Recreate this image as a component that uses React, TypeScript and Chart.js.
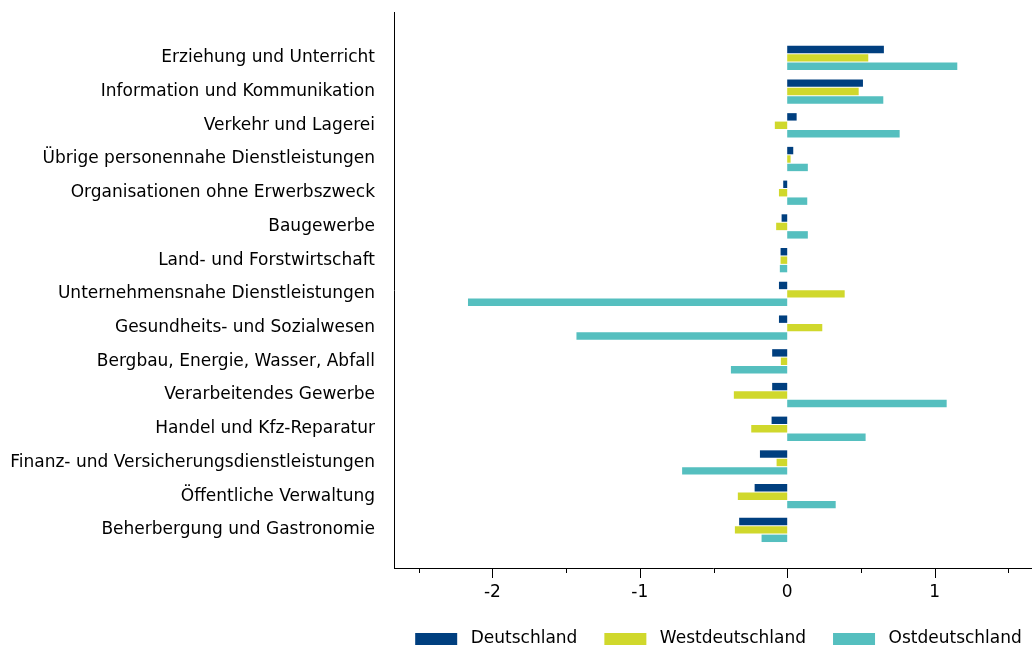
import React, { useEffect, useRef } from "react";
import { Chart, registerables } from "chart.js";

Chart.register(...registerables);

const categories = [
  "Erziehung und Unterricht",
  "Information und Kommunikation",
  "Verkehr und Lagerei",
  "Übrige personennahe Dienstleistungen",
  "Organisationen ohne Erwerbszweck",
  "Baugewerbe",
  "Land- und Forstwirtschaft",
  "Unternehmensnahe Dienstleistungen",
  "Gesundheits- und Sozialwesen",
  "Bergbau, Energie, Wasser, Abfall",
  "Verarbeitendes Gewerbe",
  "Handel und Kfz-Reparatur",
  "Finanz- und Versicherungsdienstleistungen",
  "Öffentliche Verwaltung",
  "Beherbergung und Gastronomie",
];

const deutschland = [0.656, 0.514, 0.064, 0.041, -0.027, -0.038, -0.045, -0.056, -0.056, -0.102, -0.102, -0.106, -0.185, -0.221, -0.326];
const westdeutschland = [0.55, 0.485, -0.084, 0.023, -0.056, -0.075, -0.045, 0.39, 0.238, -0.043, -0.362, -0.244, -0.072, -0.335, -0.355];
const ostdeutschland = [1.154, 0.652, 0.763, 0.14, 0.136, 0.14, -0.05, -2.166, -1.43, -0.382, 1.082, 0.532, -0.713, 0.329, -0.174];

const seriesNames = ["Deutschland", "Westdeutschland", "Ostdeutschland"];
const seriesColors = ["#003f7f", "#d0d82c", "#55bfbf"];

const xMin = -2.668;
const xMax = 1.661;
const xStep = 0.5;

const FONT = "'DejaVu Sans', sans-serif";

const tickMarks = {
  id: "tickMarks",
  afterDraw(chart: any) {
    const s = chart.scales.x;
    const ctx = chart.ctx;
    const y0 = chart.chartArea.bottom;
    ctx.save();
    ctx.strokeStyle = "#000";
    ctx.lineWidth = 1;
    s.ticks.forEach((t: any) => {
      const x = Math.round(s.getPixelForValue(t.value)) + 0.5;
      const len = Number.isInteger(t.value) ? 10 : 5;
      ctx.beginPath();
      ctx.moveTo(x, y0);
      ctx.lineTo(x, y0 + len);
      ctx.stroke();
    });
    ctx.restore();
  },
};

// Legend drawn below the plot, centred on the plot area
const bottomLegend = {
  id: "bottomLegend",
  afterDraw(chart: any) {
    const ctx = chart.ctx;
    const area = chart.chartArea;
    const boxW = 42;
    const boxH = 12;
    const gapText = 13.5;
    const gapItem = 27;
    ctx.save();
    ctx.font = `17px ${FONT}`;
    const items = chart.data.datasets.map((d: any) => ({
      label: d.label,
      color: d.backgroundColor,
      w: ctx.measureText(d.label).width,
    }));
    const total =
      items.reduce((s: number, it: any) => s + boxW + gapText + it.w, 0) + gapItem * (items.length - 1);
    let x = (area.left + area.right) / 2 + 5.5 - total / 2;
    const cy = 639;
    ctx.textBaseline = "middle";
    ctx.textAlign = "left";
    items.forEach((it: any) => {
      ctx.fillStyle = it.color;
      ctx.fillRect(x, cy - boxH / 2, boxW, boxH);
      ctx.fillStyle = "#000";
      ctx.fillText(it.label, x + boxW + gapText, cy);
      x += boxW + gapText + it.w + gapItem;
    });
    ctx.restore();
  },
};

export default function App() {
  const ref = useRef<HTMLCanvasElement | null>(null);

  useEffect(() => {
    if (!ref.current) return;
    const datasets = [deutschland, westdeutschland, ostdeutschland].map((vals, k) => ({
      label: seriesNames[k],
      data: vals.map((v, i) => ({ x: v, y: i })),
      backgroundColor: seriesColors[k],
      borderWidth: 0,
      categoryPercentage: 0.75,
      barPercentage: 0.88,
    }));
    const chart = new Chart(ref.current, {
      type: "bar",
      data: { datasets },
      plugins: [tickMarks, bottomLegend],
      options: {
        indexAxis: "y",
        animation: false,
        responsive: false,
        layout: { padding: { top: 12, right: 0, bottom: 45.6, left: 0 } },
        scales: {
          x: {
            type: "linear",
            min: xMin,
            max: xMax,
            grid: { display: false },
            border: { display: true, color: "#000", width: 1 },
            afterFit: (scale: any) => {
              scale.height = 36.4;
              scale.paddingLeft = 0;
              scale.paddingRight = 0;
            },
            ticks: {
              stepSize: xStep,
              includeBounds: false,
              autoSkip: false,
              maxRotation: 0,
              padding: 6,
              color: "#000",
              font: { family: FONT, size: 17 },
              callback: (v: any) => (Number.isInteger(v) ? String(v) : ""),
            },
          },
          y: {
            type: "linear",
            reverse: true,
            offset: false,
            min: -1.36,
            max: 15.13,
            grid: { display: false, offset: false },
            border: { display: true, color: "#000", width: 1 },
            afterBuildTicks: (scale: any) => {
              scale.ticks = categories.map((_, i) => ({ value: i }));
            },
            afterFit: (scale: any) => {
              scale.width = 394;
              scale.paddingTop = 0;
              scale.paddingBottom = 0;
            },
            ticks: {
              autoSkip: false,
              padding: 11,
              color: "#000",
              font: { family: FONT, size: 17 },
              callback: (v: any) => categories[v] ?? "",
            },
          },
        },
        plugins: {
          legend: { display: false },
          tooltip: { enabled: false },
        },
      },
    });
    return () => chart.destroy();
  }, []);

  return (
    <div style={{ position: "absolute", left: 0, top: 0, width: 1032, height: 650 }}>
      <canvas ref={ref} width={1032} height={650} style={{ display: "block" }} />
    </div>
  );
}
